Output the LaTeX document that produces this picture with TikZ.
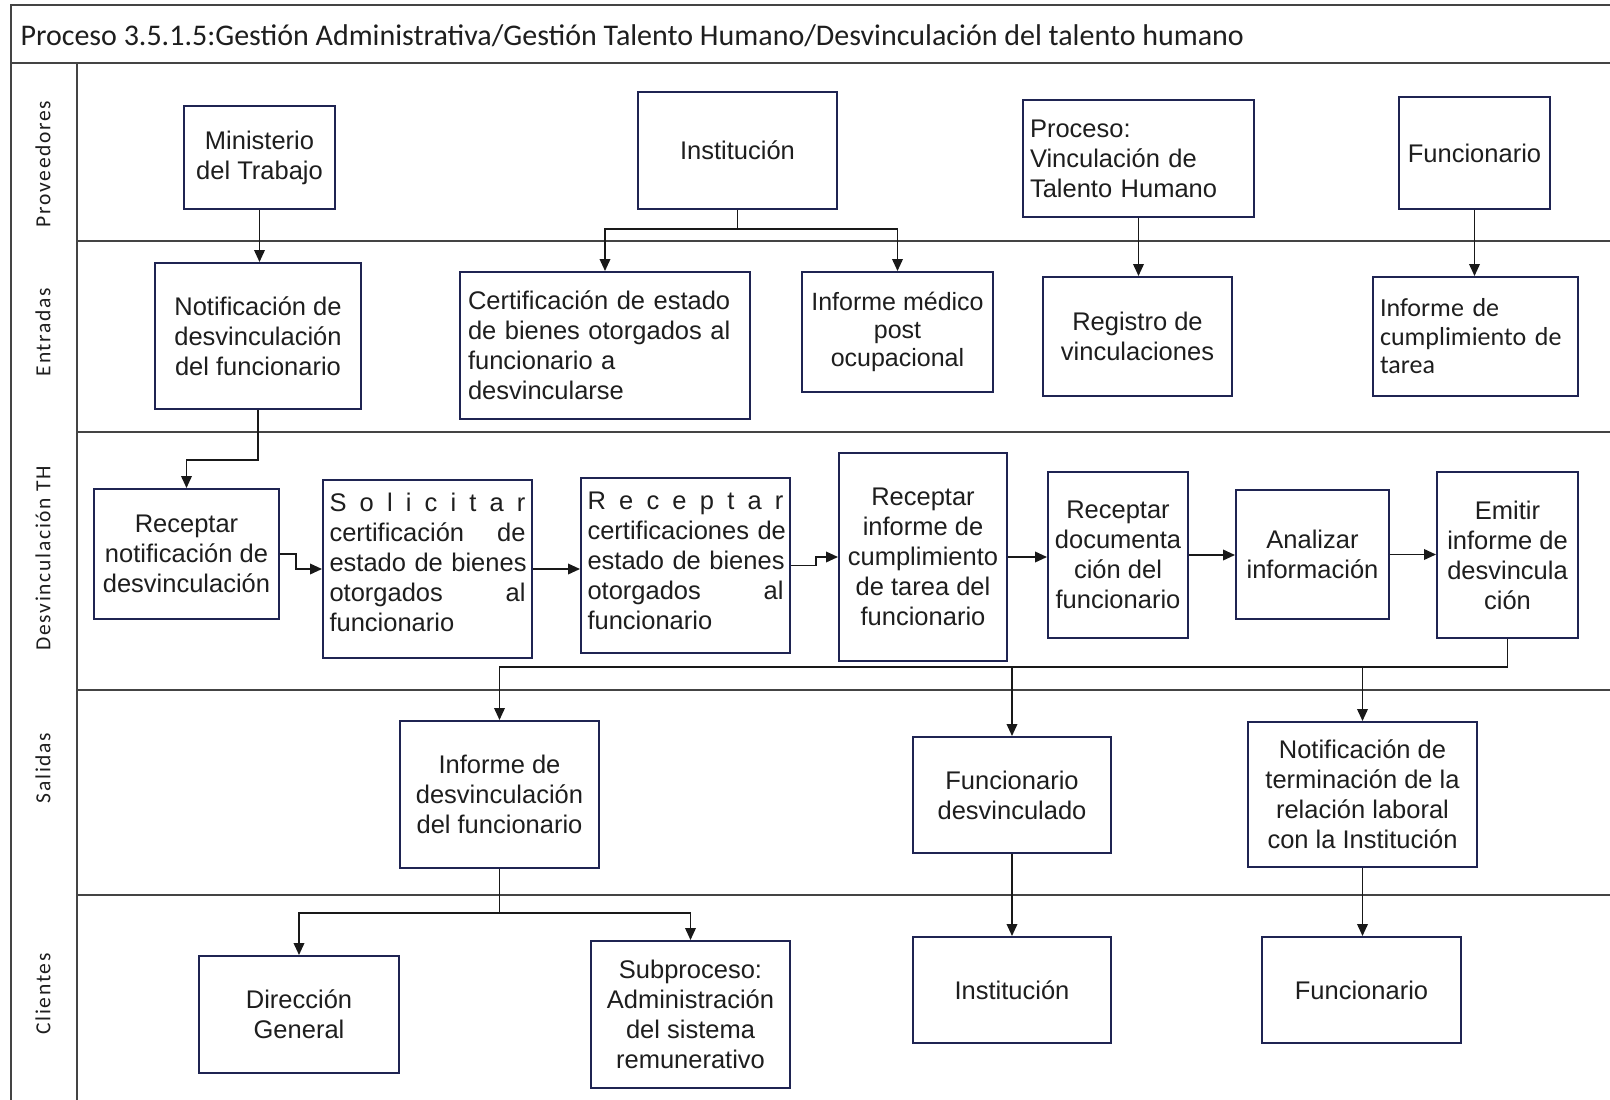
\documentclass[tikz,border=0pt]{standalone}
\usepackage{fontspec}
\setmainfont{Liberation Sans}
\newfontfamily\calibri{Carlito}
\newfontfamily\lanefont[LetterSpace=8]{Carlito}
\usetikzlibrary{arrows.meta}

\definecolor{boxline}{HTML}{1F2452}
\definecolor{ink}{HTML}{1E1E1E}
\definecolor{rule}{HTML}{444444}

\tikzset{
  frame/.style={draw=rule, line width=2pt},
  box/.style={draw=boxline, line width=1.9pt, fill=white, text=ink,
    align=center, inner sep=2pt, font=\fontsize{25.5}{30}\selectfont},
  leftbox/.style={align=left, inner xsep=7pt, text width=#1},
  justbox/.style={align=left, text width=196pt, inner xsep=6.5pt},
  lane/.style={rotate=90, text=ink, font=\lanefont\fontsize{21.5}{24}\selectfont},
  conn/.style={draw=black!90, line width=1.9pt},
  arr/.style={conn, -{Triangle[length=12pt,width=10.5pt]}}
}

% box from its corners: name, x1, y1, x2, y2, extra options, text
\newcommand\bx[7]{%
  \node[box,#6,minimum width={(#4-#2)*1pt},minimum height={(#5-#3)*1pt}]
    (#1) at ({(#2+#4)/2},{(#3+#5)/2}) {#7};}
% one fully justified line of text
\newcommand\jline[1]{\leavevmode\hbox to\linewidth{#1}}

\begin{document}
\begin{tikzpicture}[x=1pt,y=-1pt]
\useasboundingbox (0,0) rectangle (1610,1100);
\fill[white] (0,0) rectangle (1610,1100);

% outer frame, title band and lane dividers
\draw[frame] (1610,5) -- (11,5) -- (11,1100);
\draw[frame] (11,63) -- (1610,63);
\draw[frame] (77,63) -- (77,1100);
\foreach \yy in {241,432,690,895} \draw[frame] (77,\yy) -- (1610,\yy);

\node[anchor=west, text=ink, font=\calibri\fontsize{30}{34}\selectfont] (title) at (17,36)
  {Proceso 3.5.1.5:Gestión Administrativa/Gestión Talento Humano/Desvinculación del talento humano};

% lane labels
\node[lane] (lprov) at (43,164) {Proveedores};
\node[lane] (lentr) at (43,332) {Entradas};
\node[lane] (ldesv) at (43,558) {Desvinculación TH};
\node[lane] (lsali) at (43,768) {Salidas};
\node[lane] (lclie) at (43,994) {Clientes};

% Proveedores
\bx{minis}{184}{106}{335}{209}{}{Ministerio\\del Trabajo}
\bx{inst}{638}{92}{837}{209}{}{Institución}
\bx{proc}{1024}{100}{1253}{217}{leftbox=217pt}{Proceso:\\Vinculación de\\Talento Humano}
\bx{func}{1399}{97}{1550}{209}{}{Funcionario}

% Entradas
\bx{notif}{155}{263}{361}{409}{}{Notificación de\\desvinculación\\del funcionario}
\bx{cert}{460}{272}{750}{419}{leftbox=274pt}{Certificación de estado\\de bienes otorgados al\\funcionario a\\desvincularse}
\bx{medico}{802}{272}{993}{392}{font=\fontsize{25}{28}\selectfont}{Informe médico\\post\\ocupacional}
\bx{regis}{1043}{277}{1232}{396}{}{Registro de\\vinculaciones}
\bx{infcum}{1373}{277}{1578}{396}{leftbox=191pt,font=\calibri\fontsize{26}{28.5}\selectfont}{Informe de\\cumplimiento de\\tarea}

% Desvinculación TH
\bx{recnot}{94}{489}{279}{619}{}{Receptar\\notificación de\\desvinculación}
\bx{solic}{323}{480}{532}{658}{justbox}{%
  \jline{S\hfill o\hfill l\hfill i\hfill c\hfill i\hfill t\hfill a\hfill r}\\
  \jline{certificación\hfill de}\\
  \jline{estado de bienes}\\
  \jline{otorgados\hfill al}\\
  funcionario\rule[-14pt]{0pt}{1pt}}
\bx{recert}{581}{478}{790}{653}{justbox}{%
  \jline{R\hfill e\hfill c\hfill e\hfill p\hfill t\hfill a\hfill r}\\
  \jline{certificaciones de}\\
  \jline{estado de bienes}\\
  \jline{otorgados\hfill al}\\
  funcionario\rule[-10pt]{0pt}{1pt}}
\bx{recinf}{839}{453}{1007}{661}{}{Receptar\\informe de\\cumplimiento\\de tarea del\\funcionario}
\bx{recdoc}{1048}{472}{1188}{638}{}{Receptar\\documenta\\ción del\\funcionario}
\bx{anal}{1236}{490}{1389}{619}{}{Analizar\\información}
\bx{emitir}{1437}{472}{1578}{638}{}{Emitir\\informe de\\desvincula\\ción}

% Salidas
\bx{infdes}{400}{721}{599}{868}{}{Informe de\\desvinculación\\del funcionario}
\bx{funcdes}{913}{737}{1111}{853}{}{Funcionario\\desvinculado}
\bx{notter}{1248}{722}{1477}{867}{}{Notificación de\\terminación de la\\relación laboral\\con la Institución}

% Clientes
\bx{dirgen}{199}{956}{399}{1073}{}{Dirección\\General}
\bx{subproc}{591}{941}{790}{1088}{}{Subproceso:\\Administración\\del sistema\\remunerativo}
\bx{instc}{913}{937}{1111}{1043}{}{Institución}
\bx{funcc}{1262}{937}{1461}{1043}{}{Funcionario}

% connectors: suppliers to inputs
\draw[arr] (minis.south) -- (minis.south |- notif.north);
\coordinate (ibus) at (737.5,229);
\draw[conn] (inst.south) -- (ibus);
\draw[arr] (ibus) -| (cert.north);
\draw[arr] (ibus) -| (medico.north);
\draw[arr] (proc.south) -- (proc.south |- regis.north);
\draw[arr] (func.south) -- (func.south |- infcum.north);

% connectors: inputs to the process chain
\draw[arr] (notif.south) -- ++(0,50) -| (recnot.north);
\draw[arr] (recnot.east) -- ++(16,0) |- (solic.west);
\draw[arr] (solic.east) -- (solic.east -| recert.west);
\draw[arr] (recert.east) -- ++(25,0) |- (recinf.west);
\draw[arr] (recinf.east) -- (recinf.east -| recdoc.west);
\draw[arr] (recdoc.east) -- (recdoc.east -| anal.west);
\draw[arr] (anal.east) -- (anal.east -| emitir.west);

% connectors: process to outputs
\coordinate (obus) at (0,667);
\draw[arr] (emitir.south) |- (infdes.north |- obus) -- (infdes.north);
\draw[arr] (funcdes.north |- obus) -- (funcdes.north);
\draw[arr] (notter.north |- obus) -- (notter.north);

% connectors: outputs to clients
\draw[conn] (infdes.south) -- ++(0,44) coordinate (fork);
\draw[arr] (fork) -| (dirgen.north);
\draw[arr] (fork) -| (subproc.north);
\draw[arr] (funcdes.south) -- (instc.north);
\draw[arr] (notter.south) -- (notter.south |- funcc.north);
\end{tikzpicture}
\end{document}
